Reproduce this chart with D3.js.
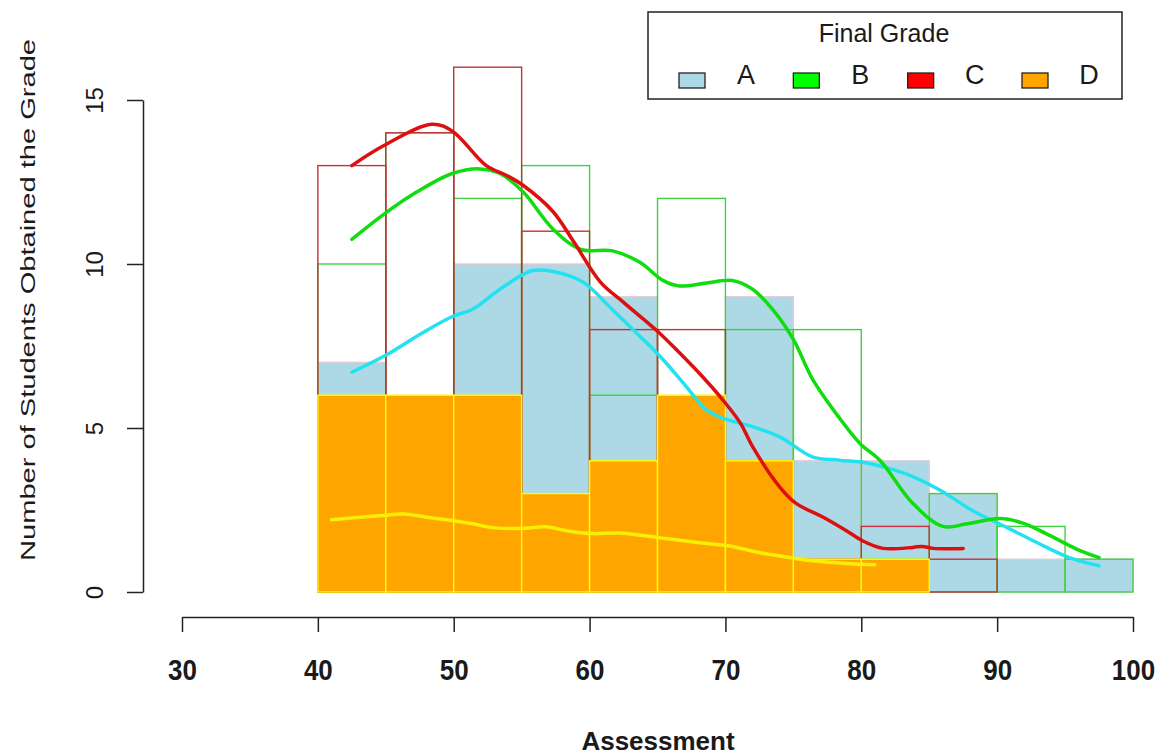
<!DOCTYPE html>
<html>
<head>
<meta charset="utf-8">
<script src="https://cdn.jsdelivr.net/npm/d3@7"></script>
<style>
  body { margin: 0; background: #fff; }
  text { font-family: "Liberation Sans", Arial, sans-serif; fill: #1a1a1a; }
</style>
</head>
<body>
<div id="chart"></div>
<script>
// histogram bins (left edges), width 5
const binStarts = [40, 45, 50, 55, 60, 65, 70, 75, 80, 85, 90, 95];
const binWidth = 5;

// counts per bin for each final grade
const countsA = [7, 5, 10, 10, 9, 5, 9, 4, 4, 3, 1, 1];
const countsB = [10, 14, 12, 13, 6, 12, 8, 8, 1, 3, 2, 1];
const countsC = [13, 14, 16, 11, 8, 8, 4, 1, 2, 1];
const countsD = [6, 6, 6, 3, 4, 6, 4, 1, 1];

// density curves (scaled to counts)
const densAx = [42.5, 45.1, 47.5, 49.9, 51.4, 53.4, 55.8, 57.3, 59.5, 61.7, 63.7, 65.4, 67.1, 68.6, 69.8, 72.0, 74.0, 76.4, 78.4, 80.6, 83.3, 85.8, 88.2, 90.7, 93.1, 95.3, 97.5];
const densAy = [6.7, 7.24, 7.85, 8.4, 8.62, 9.23, 9.8, 9.77, 9.45, 8.6, 7.8, 7.09, 6.27, 5.55, 5.3, 5.04, 4.73, 4.12, 4.02, 3.92, 3.6, 3.1, 2.48, 1.97, 1.47, 1.05, 0.8];
const densBx = [42.5, 44.8, 47.3, 49.9, 51.9, 53.4, 55.1, 57.3, 59.3, 61.7, 63.7, 65.4, 66.6, 68.6, 70.5, 72.0, 73.5, 75.0, 76.4, 78.4, 79.9, 81.4, 83.8, 86.0, 87.8, 90.2, 91.9, 93.6, 96.1, 97.5];
const densBy = [10.75, 11.5, 12.2, 12.76, 12.9, 12.76, 12.2, 11.07, 10.45, 10.4, 10.05, 9.5, 9.33, 9.42, 9.5, 9.23, 8.6, 7.7, 6.5, 5.3, 4.53, 4.0, 2.7, 2.0, 2.08, 2.24, 2.1, 1.78, 1.26, 1.05];
const densCx = [42.5, 44.8, 48.4, 49.9, 52.4, 53.9, 55.1, 57.3, 58.8, 60.8, 62.5, 65.0, 66.6, 68.3, 69.8, 71.1, 72.0, 74.0, 75.2, 77.2, 78.9, 80.1, 81.6, 83.8, 84.5, 85.3, 87.5];
const densCy = [13.0, 13.6, 14.26, 14.05, 13.0, 12.7, 12.4, 11.6, 10.7, 9.45, 8.83, 7.95, 7.3, 6.57, 5.86, 5.15, 4.43, 3.2, 2.7, 2.28, 1.87, 1.56, 1.33, 1.36, 1.39, 1.33, 1.33];
const densDx = [41.0, 43.1, 44.8, 46.3, 48.0, 49.9, 51.4, 52.7, 55.1, 56.8, 58.3, 60.2, 62.2, 65.2, 68.1, 70.3, 72.5, 74.0, 76.4, 78.9, 81.0];
const densDy = [2.2, 2.28, 2.33, 2.38, 2.28, 2.18, 2.08, 1.97, 1.94, 1.99, 1.87, 1.78, 1.8, 1.65, 1.5, 1.4, 1.2, 1.1, 0.95, 0.87, 0.83];

const xTicks = [30, 40, 50, 60, 70, 80, 90, 100];
const yTicks = [0, 5, 10, 15];
const grades = ['A', 'B', 'C', 'D'];
const gradeColors = ['#add8e6', '#00ff00', '#ff0000', '#ffa500'];

const width = 1161;
const height = 756;

const svg = d3.select('#chart')
  .append('svg')
  .attr('width', width)
  .attr('height', height);

const x = d3.scaleLinear().domain([30, 100]).range([182, 1133]);
const y = d3.scaleLinear().domain([0, 15]).range([592, 100]);

// one histogram layer
function drawHist(counts, fill, stroke) {
  svg.append('g')
    .selectAll('rect')
    .data(counts)
    .enter()
    .append('rect')
    .attr('x', (d, i) => x(binStarts[i]))
    .attr('y', d => y(d))
    .attr('width', (d, i) => x(binStarts[i] + binWidth) - x(binStarts[i]))
    .attr('height', d => y(0) - y(d))
    .attr('fill', fill)
    .attr('stroke', stroke)
    .attr('stroke-width', 1.4);
}

drawHist(countsA, '#add8e6', '#e0cbd5');
drawHist(countsB, 'none', '#3fd23f');
drawHist(countsC, 'none', '#c8303a');
drawHist(countsD, '#ffa500', '#ffff00');

// density lines
const line = d3.line()
  .x(d => x(d[0]))
  .y(d => y(d[1]))
  .curve(d3.curveCatmullRom);

const dens = [
  [densAx, densAy, '#22e2f0'],
  [densBx, densBy, '#10dc10'],
  [densCx, densCy, '#dd1010'],
  [densDx, densDy, '#f8f000']
];
dens.forEach(dd => {
  svg.append('path')
    .datum(dd[0].map((v, i) => [v, dd[1][i]]))
    .attr('d', line)
    .attr('fill', 'none')
    .attr('stroke', dd[2])
    .attr('stroke-width', 3.5)
    .attr('stroke-linejoin', 'round')
    .attr('stroke-linecap', 'round');
});

// axes
const xAxis = d3.axisBottom(x).tickValues(xTicks).tickSize(15).tickSizeOuter(0);
const gx = svg.append('g')
  .attr('transform', 'translate(0, 617)')
  .call(xAxis);
gx.selectAll('path, line').attr('stroke', '#222').attr('stroke-width', 1.5);
// labels a bit taller than wide, like the picture
gx.selectAll('text')
  .attr('y', 55)
  .attr('dy', null)
  .attr('transform', 'scale(1, 1.15)')
  .style('font-size', '26px')
  .style('font-weight', 'bold')
  .style('fill', '#1a1a1a');

const yAxis = d3.axisLeft(y).tickValues(yTicks).tickSize(16).tickSizeOuter(0);
const gy = svg.append('g')
  .attr('transform', 'translate(143, 0)')
  .call(yAxis);
gy.selectAll('path, line').attr('stroke', '#222').attr('stroke-width', 1.5);
gy.selectAll('text')
  .attr('x', null)
  .attr('dy', null)
  .attr('text-anchor', 'middle')
  .attr('transform', 'translate(-40, 0) rotate(-90)')
  .style('font-size', '24px')
  .style('fill', '#1a1a1a');

// axis titles
svg.append('text')
  .attr('x', 658)
  .attr('y', 750)
  .attr('text-anchor', 'middle')
  .style('font-size', '26px')
  .style('font-weight', 'bold')
  .text('Assessment');

svg.append('text')
  .attr('transform', 'translate(35, 300) rotate(-90)')
  .attr('text-anchor', 'middle')
  .attr('textLength', 522)
  .attr('lengthAdjust', 'spacingAndGlyphs')
  .style('font-size', '21px')
  .text('Number of Students Obtained the Grade');

// legend
const legend = svg.append('g');
legend.append('rect')
  .attr('x', 648).attr('y', 12)
  .attr('width', 474).attr('height', 87)
  .attr('fill', '#fff')
  .attr('stroke', '#222')
  .attr('stroke-width', 1.5);
legend.append('text')
  .attr('x', 884).attr('y', 42)
  .attr('text-anchor', 'middle')
  .style('font-size', '25px')
  .text('Final Grade');

const keyX = d3.scalePoint().domain(grades).range([679, 1022]);
const items = legend.selectAll('.key')
  .data(grades)
  .enter()
  .append('g')
  .attr('transform', d => `translate(${keyX(d)}, 0)`);
items.append('rect')
  .attr('x', 0).attr('y', 73)
  .attr('width', 26).attr('height', 15)
  .attr('fill', (d, i) => gradeColors[i])
  .attr('stroke', '#222')
  .attr('stroke-width', 1.3);
items.append('text')
  .attr('x', 67).attr('y', 84)
  .attr('text-anchor', 'middle')
  .style('font-size', '27px')
  .text(d => d);
</script>
</body>
</html>
